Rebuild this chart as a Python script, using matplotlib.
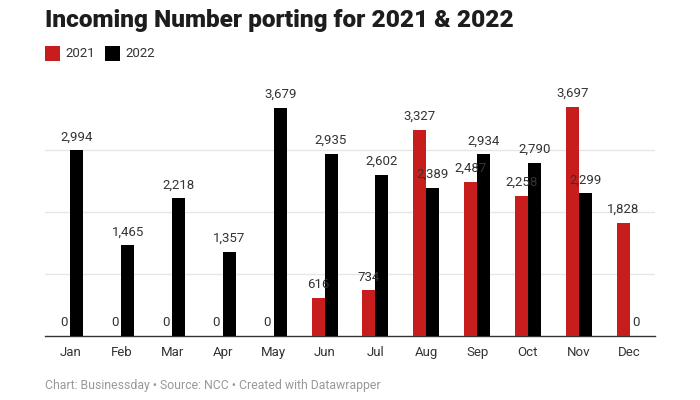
import matplotlib
matplotlib.use("Agg")
import matplotlib.pyplot as plt
import numpy as np
from matplotlib.patches import Rectangle

months = ["Jan", "Feb", "Mar", "Apr", "May", "Jun", "Jul", "Aug", "Sep", "Oct", "Nov", "Dec"]
vals_2021 = [0, 0, 0, 0, 0, 616, 734, 3327, 2487, 2258, 3697, 1828]
vals_2022 = [2994, 1465, 2218, 1357, 3679, 2935, 2602, 2389, 2934, 2790, 2299, 0]
series_names = ["2021", "2022"]
colors = ["#c71e1d", "#000000"]

plt.rcParams['font.family'] = ['Roboto', 'DejaVu Sans']

W, H = 700, 400
fig = plt.figure(figsize=(7, 4), dpi=100)
ax_left, ax_right = 45, 655
ax_top, ax_bot = 100, 336
ax = fig.add_axes([ax_left / W, 1 - ax_bot / H, (ax_right - ax_left) / W, (ax_bot - ax_top) / H])

px_per_unit = 62 / 1000
ymax = (ax_bot - ax_top) / px_per_unit
ax.set_ylim(0, ymax)
ax.set_xlim(-0.5, len(months) - 0.5)

x = np.arange(len(months))
bw = 13 / 51
for i, (vals, c) in enumerate(zip([vals_2021, vals_2022], colors)):
    off = (i - 0.5) * bw
    ax.bar(x + off, vals, width=bw, color=c, zorder=3)
    for xi, v in zip(x, vals):
        ax.text(xi + off, v + 110, f"{v:,}", ha="center", va="bottom",
                fontsize=9.5, color="#333333", zorder=4)

for g in [1000, 2000, 3000]:
    ax.axhline(g, color="#e6e6e6", lw=1, zorder=1)

for s in ["top", "right", "left"]:
    ax.spines[s].set_visible(False)
ax.spines["bottom"].set_color("#333333")
ax.spines["bottom"].set_linewidth(1)
ax.set_yticks([])
ax.set_xticks(x)
ax.set_xticklabels(months, fontsize=9.5, color="#333333")
ax.tick_params(axis="x", length=0, pad=7)

fig.text(45 / W, 1 - 21 / H, "Incoming Number porting for 2021 & 2022", fontsize=17.6,
         fontweight=900, color="#1d1d1d", ha="left", va="center")

# legend
lx = 45
for name, c in zip(series_names, colors):
    fig.patches.append(Rectangle((lx / W, 1 - 61 / H), 15 / W, 15 / H, transform=fig.transFigure,
                                 facecolor=c, edgecolor="none"))
    fig.text((lx + 20) / W, 1 - 53.5 / H, name, fontsize=9.5, color="#333333", ha="left", va="center")
    lx += 60

fig.text(45 / W, 1 - 385 / H, "Chart: Businessday \u2022 Source: NCC \u2022 Created with Datawrapper",
         fontsize=8.8, color="#999999", ha="left", va="center")

fig.savefig("out.png", dpi=100, facecolor="white")
